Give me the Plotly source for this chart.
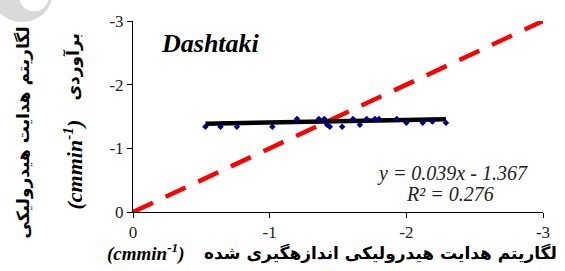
import plotly.graph_objects as go

# Data
obs_x = [-0.53, -0.64, -0.76, -1.02, -1.20, -1.36, -1.40, -1.42, -1.44, -1.53,
         -1.61, -1.66, -1.71, -1.77, -1.80, -1.93, -2.00, -2.12, -2.19, -2.29]
est_y = [-1.34, -1.34, -1.34, -1.34, -1.46, -1.46, -1.46, -1.37, -1.34, -1.34,
         -1.46, -1.37, -1.46, -1.46, -1.46, -1.46, -1.40, -1.40, -1.42, -1.40]
slope = 0.039
intercept = -1.367
fit_x = [min(obs_x, key=abs), max(obs_x, key=abs)]
fit_y = [slope * v + intercept for v in fit_x]
one_x = [0, -3]
one_y = [0, -3]
ticks = [0, -1, -2, -3]
tick_text = ["0", "-1", "-2", "-3"]

W, H = 565, 271
L, R, T, B = 133, 22, 15, 59
pw, ph = W - L - R, H - T - B

def px(x):
    return (x - L) / pw

def py(y):
    return (H - B - y) / ph

fig = go.Figure()
fig.add_trace(go.Scatter(x=one_x, y=one_y, mode="lines",
                         line=dict(color="#FF0000", width=4.5, dash="22px,14px"),
                         hoverinfo="skip"))
fig.add_trace(go.Scatter(x=fit_x, y=fit_y, mode="lines",
                         line=dict(color="#000000", width=4.5), hoverinfo="skip"))
fig.add_trace(go.Scatter(x=obs_x, y=est_y, mode="markers",
                         marker=dict(symbol="diamond", size=5, color="#00008B")))

serif = "Liberation Serif, Times New Roman, DejaVu Serif, serif"
axis_common = dict(showgrid=False, zeroline=False, showline=True, linecolor="#000",
                   linewidth=1, ticks="outside", ticklen=5, tickcolor="#000",
                   tickvals=ticks, ticktext=tick_text,
                   tickfont=dict(family=serif, size=17, color="#222"))
fig.update_xaxes(range=[0, -3], **axis_common)
fig.update_yaxes(range=[0, -3], **axis_common)

fa = "DejaVu Sans"
ann = [
    dict(x=px(210), y=py(38), text="<b><i>Dashtaki</i></b>",
         font=dict(family=serif, size=26, color="#000")),
    dict(x=px(452), y=py(172), text="<i>y = 0.039x - 1.367</i>",
         font=dict(family=serif, size=20, color="#222")),
    dict(x=px(450), y=py(193), text="<i>R² = 0.276</i>",
         font=dict(family=serif, size=20, color="#222")),
    # x title
    dict(x=px(146), y=py(254), text="<b><i>(cmmin<sup>-1</sup>)</i></b>",
         font=dict(family=serif, size=19, color="#000")),
    dict(x=px(380), y=py(255), text="<b>لگاریتم هدایت هیدرولیکی اندازهگیری شده</b>",
         font=dict(family=fa, size=17, color="#000")),
    # y title
    dict(x=px(23), y=py(130), text="<b>لگاریتم هدایت هیدرولیکی</b>", textangle=-90,
         font=dict(family=fa, size=17, color="#000")),
    dict(x=px(73), y=py(63), text="<b>برآوردی</b>", textangle=-90,
         font=dict(family=fa, size=17, color="#000")),
    dict(x=px(73), y=py(163), text="<b><i>(cmmin<sup>-1</sup>)</i></b>", textangle=-90,
         font=dict(family=serif, size=22, color="#000")),
]
for a in ann:
    a.update(xref="paper", yref="paper", showarrow=False, xanchor="center", yanchor="middle")
fig.update_layout(annotations=ann)

fig.add_shape(type="circle", xref="paper", yref="paper",
              x0=px(-8), x1=px(52), y0=py(16), y1=py(-40),
              fillcolor="#D9D9D9", line=dict(width=0), layer="below")
fig.add_shape(type="circle", xref="paper", yref="paper",
              x0=px(20), x1=px(48), y0=py(5), y1=py(-20),
              fillcolor="#FFFFFF", line=dict(width=0), layer="below")

fig.update_layout(width=W, height=H, margin=dict(l=L, r=R, t=T, b=B),
                  paper_bgcolor="white", plot_bgcolor="white", showlegend=False)
fig.write_html("out.html", config={"displayModeBar": False},
               post_script="document.body.style.margin='0';document.body.style.overflow='hidden';")
